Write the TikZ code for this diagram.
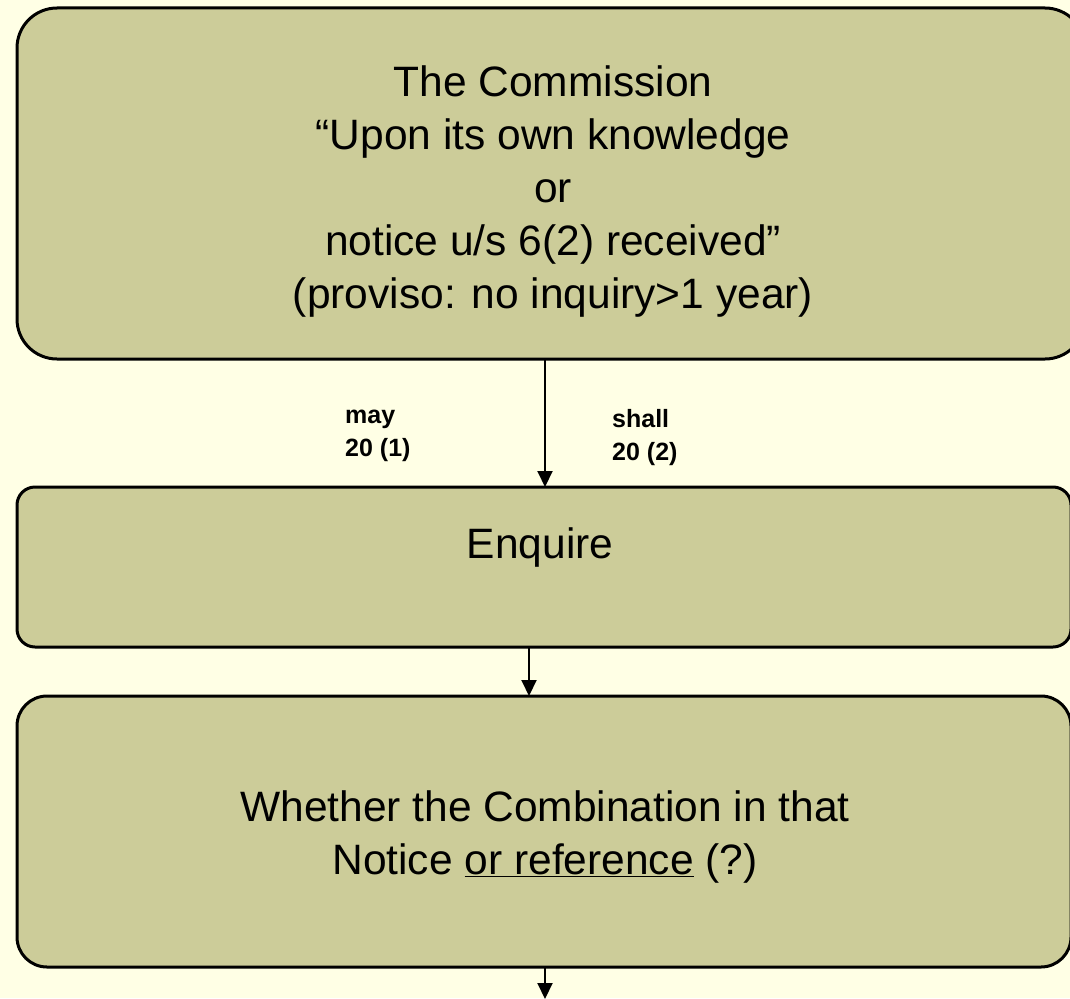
\documentclass[tikz,border=0pt]{standalone}
\usepackage{fontspec}
\setmainfont{Liberation Sans}
\usetikzlibrary{arrows.meta}
\definecolor{pagebg}{HTML}{FFFFE5}
\definecolor{boxfill}{HTML}{CCCC99}
\begin{document}
\begin{tikzpicture}[x=1pt,y=-1pt,
  stage/.style={draw=black, line width=3pt, fill=boxfill, inner sep=0pt, outer sep=0pt},
  bodytext/.style={inner sep=0pt, align=center, font=\fontsize{42.5}{53}\selectfont},
  tag/.style={inner sep=0pt, align=left, anchor=north west, font=\fontsize{25}{32.5}\selectfont\bfseries},
  flow/.style={draw=black, line width=2pt, -{Triangle[length=16pt,width=15pt]}}]
  \useasboundingbox (0,0) rectangle (1070,998);
  \fill[pagebg] (0,0) rectangle (1070,998);
  \begin{scope}
  \clip (0,0) rectangle (1070,998);
  % the three stages
  \node[stage, rounded corners=40pt, minimum width=1068pt, minimum height=351pt] (start) at (551,183.5) {};
  \node[stage, rounded corners=18pt, minimum width=1054pt, minimum height=160pt] (enquire) at (544,567) {};
  \node[stage, rounded corners=30pt, minimum width=1054pt, minimum height=271pt] (question) at (544,831.5) {};
  % texts of the stages
  \node[bodytext] (starttext) at (553,191.5) {The Commission\\“Upon its own knowledge\\or\\notice u/s 6(2) received”\\(proviso: no inquiry>1 year)};
  \node[bodytext] (enquiretext) at (540,548) {Enquire};
  \node[bodytext] (questiontext) at (545,837) {Whether the Combination in that\\Notice \underline{or reference} (?)};
  % section labels beside the first arrow
  \node[tag] (may) at (345,410) {may\\20 (1)};
  \node[tag] (shall) at (612,409.5) {shall\\20 (2)};
  % connectors
  \coordinate (below) at (545,999);
  \draw[flow] ([xshift=-6pt]start.south) -- ([xshift=1pt]enquire.north);
  \draw[flow] ([xshift=-15pt]enquire.south) -- ([xshift=-15pt]question.north);
  \draw[flow] ([xshift=1pt]question.south) -- (below);
  \end{scope}
\end{tikzpicture}
\end{document}
